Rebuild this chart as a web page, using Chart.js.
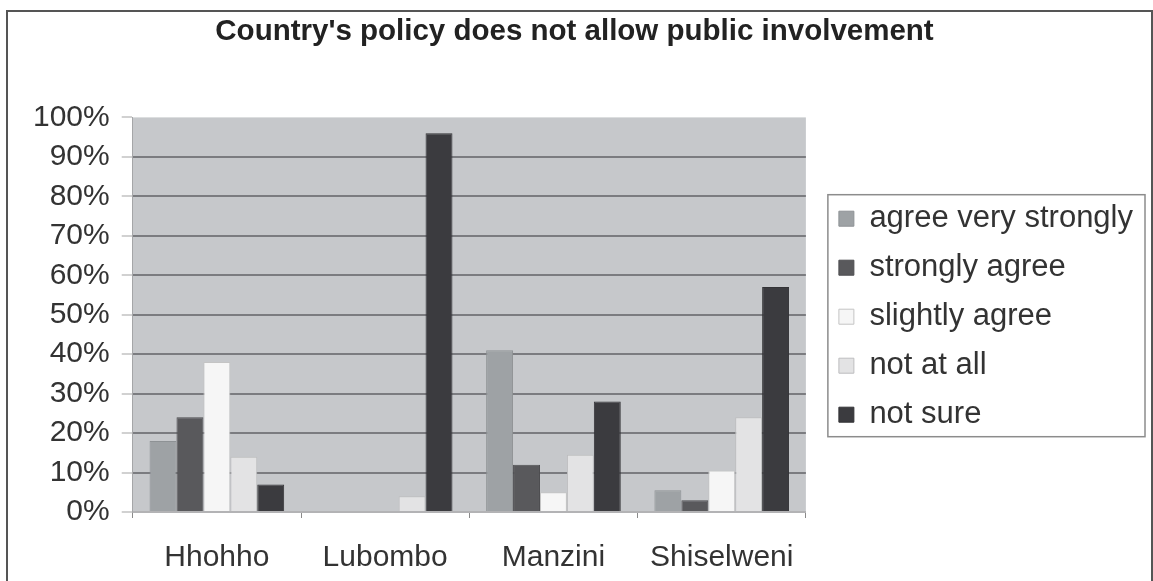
<!DOCTYPE html>
<html>
<head>
<meta charset="utf-8">
<title>Country's policy does not allow public involvement</title>
<script src="https://cdn.jsdelivr.net/npm/chart.js@4/dist/chart.umd.min.js"></script>
<style>
  html, body { margin: 0; padding: 0; background: #fff; overflow: hidden; }
  #wrap { position: relative; width: 1153px; height: 581px; }
  #frame { position: absolute; left: 6px; top: 10px; width: 1147px; height: 600px; box-sizing: border-box; border: 2px solid #555; pointer-events: none; }
  canvas { position: absolute; left: 0; top: 0; }
</style>
</head>
<body>
<div id="wrap">
  <canvas id="policyChart" width="1153" height="581"></canvas>
  <div id="frame"></div>
</div>
<script>
// survey answers per region, in percent
const regions = ['Hhohho', 'Lubombo', 'Manzini', 'Shiselweni'];
const agreeVeryStrongly = [18, 0, 41, 5.5];
const stronglyAgree = [24, 0, 12, 3];
const slightlyAgree = [38, 0, 5, 10.5];
const notAtAll = [14, 4, 14.5, 24];
const notSure = [7, 96, 28, 57];
const percentTicks = [0, 10, 20, 30, 40, 50, 60, 70, 80, 90, 100];

Chart.defaults.font.family = "'Liberation Sans', Arial, sans-serif";

// grey plot area behind the bars
const plotBackground = {
  id: 'plotBackground',
  beforeDraw(chart) {
    const { ctx, chartArea: area } = chart;
    ctx.save();
    ctx.fillStyle = '#c6c8cb';
    ctx.fillRect(area.left, area.top, area.right - area.left, area.bottom - area.top);
    ctx.restore();
  },
};

// keeps the legend off the plot edge and boxes it in
const legendFrame = {
  id: 'legendFrame',
  afterLayout(chart) {
    const legend = chart.legend;
    legend.left += 15;
    legend.right += 15;
    legend.top += 2;
    legend.bottom += 2;
  },
  afterDraw(chart) {
    const boxes = chart.legend.legendHitBoxes;
    if (!boxes || !boxes.length) return;

    const first = boxes[0];
    const last = boxes[boxes.length - 1];
    const left = Math.min(...boxes.map((b) => b.left)) - 11;
    const right = Math.max(...boxes.map((b) => b.left + b.width)) + 12;
    const top = first.top + first.height / 2 - 24;
    const bottom = last.top + last.height / 2 + 22;

    const { ctx } = chart;
    ctx.save();
    ctx.strokeStyle = '#8c8c8c';
    ctx.lineWidth = 1.5;
    ctx.strokeRect(left, top, right - left, bottom - top);
    ctx.restore();
  },
};

function makeSeries(label, data, fill, edge) {
  return {
    label,
    data,
    backgroundColor: fill,
    borderColor: edge,
    borderWidth: 1,
    categoryPercentage: 0.8,
    barPercentage: 1.0,
  };
}

new Chart(document.getElementById('policyChart'), {
  type: 'bar',
  data: {
    labels: regions,
    datasets: [
      makeSeries('agree very strongly', agreeVeryStrongly, '#9ea2a5', '#8e9295'),
      makeSeries('strongly agree', stronglyAgree, '#59595c', '#4d4d50'),
      makeSeries('slightly agree', slightlyAgree, '#f6f6f6', '#c4c4c4'),
      makeSeries('not at all', notAtAll, '#e3e3e4', '#bdbdbf'),
      makeSeries('not sure', notSure, '#3b3b3f', '#333336'),
    ],
  },
  options: {
    responsive: false,
    animation: false,
    devicePixelRatio: 1,
    layout: {
      // tick padding is counted twice in the axis size, so the bottom is pulled in
      padding: { left: 21, right: 25, top: 0, bottom: -17 },
    },
    plugins: {
      title: {
        display: true,
        text: "Country's policy does not allow public involvement",
        color: '#222222',
        font: { size: 29.5, weight: 'bold' },
        padding: { top: 14, bottom: 68 },
      },
      legend: {
        position: 'right',
        align: 'center',
        fullSize: false,
        maxWidth: 400,
        labels: {
          color: '#333333',
          font: { size: 31 },
          boxWidth: 15,
          boxHeight: 15,
          padding: 18,
        },
      },
      tooltip: { enabled: false },
    },
    scales: {
      x: {
        ticks: {
          color: '#333333',
          font: { size: 30 },
          padding: 22,
        },
        grid: {
          offset: true,
          drawOnChartArea: false,
          tickLength: 6,
          color: '#8a8a8a',
        },
        border: { color: '#b3b3b5', width: 2 },
      },
      y: {
        min: 0,
        max: 100,
        afterBuildTicks: (scale) => {
          scale.ticks = percentTicks.map((value) => ({ value }));
        },
        ticks: {
          autoSkip: false,
          color: '#333333',
          font: { size: 30 },
          padding: 12,
          callback: (value) => `${value}%`,
        },
        grid: {
          color: (ctx) => (ctx.tick && ctx.tick.value > 0 && ctx.tick.value < 100 ? '#7b7c80' : 'rgba(0,0,0,0)'),
          lineWidth: 2,
          tickLength: 11,
          tickColor: '#a3a3a3',
          tickWidth: 1,
        },
        border: { color: '#a5a6a8', width: 1 },
      },
    },
  },
  plugins: [plotBackground, legendFrame],
});
</script>
</body>
</html>
